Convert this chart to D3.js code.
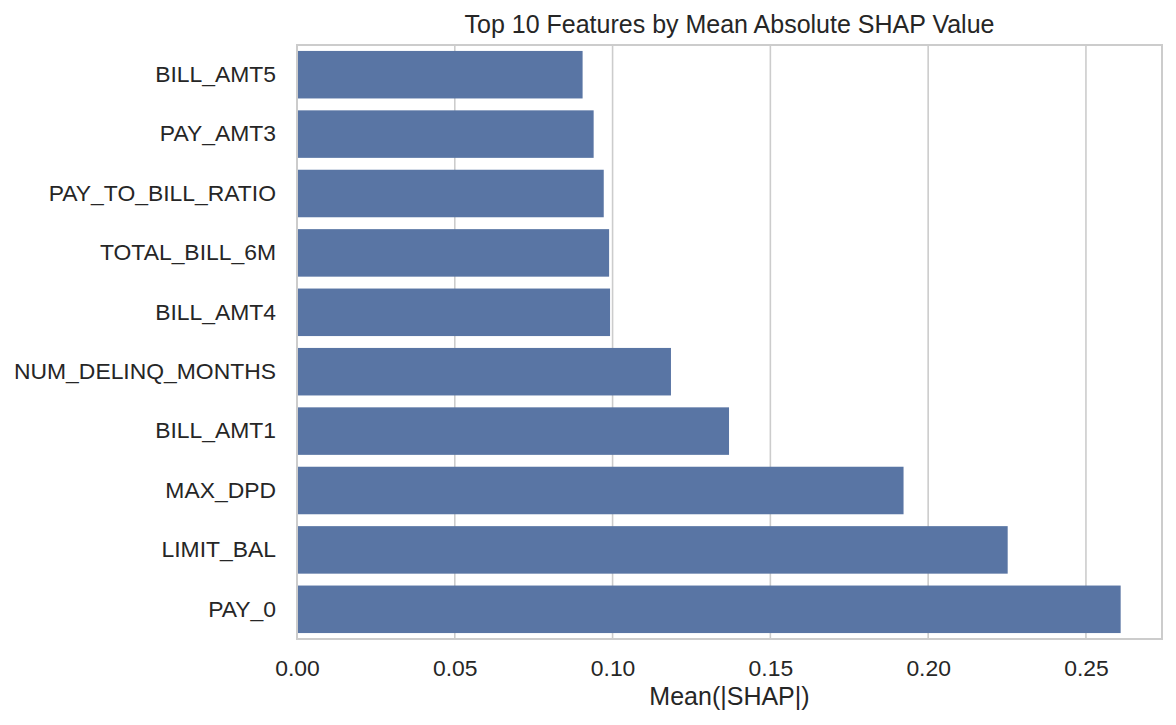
<!DOCTYPE html>
<html>
<head>
<meta charset="utf-8">
<script src="https://cdn.jsdelivr.net/npm/d3@7"></script>
<style>
  body { margin: 0; background: #fff; }
  text { font-family: Arial, "Liberation Sans", sans-serif; fill: #262626; }
</style>
</head>
<body>
<div id="chart"></div>
<script>
// data, top to bottom as drawn
var features = ['BILL_AMT5', 'PAY_AMT3', 'PAY_TO_BILL_RATIO', 'TOTAL_BILL_6M', 'BILL_AMT4',
                'NUM_DELINQ_MONTHS', 'BILL_AMT1', 'MAX_DPD', 'LIMIT_BAL', 'PAY_0'];
var meanShap = [0.0905, 0.0940, 0.0972, 0.0989, 0.0992, 0.1185, 0.1369, 0.1922, 0.2252, 0.2610];
var xTicks = [0, 0.05, 0.10, 0.15, 0.20, 0.25];

var svgwidth = 1176, svgheight = 725;
var plotLeft = 297, plotRight = 1162, plotTop = 45, plotBottom = 639;

var svg = d3.select('#chart').append('svg')
    .attr('width', svgwidth)
    .attr('height', svgheight);

var xscale = d3.scaleLinear()
    .domain([0, 0.2741])
    .range([plotLeft, plotRight]);

var yscale = d3.scaleBand()
    .domain(features)
    .range([plotTop, plotBottom])
    .paddingInner(0.2)
    .paddingOuter(0.1);

// grid lines (behind bars)
svg.append('g')
    .selectAll('line')
    .data(xTicks)
    .enter()
    .append('line')
    .attr('x1', d => xscale(d))
    .attr('x2', d => xscale(d))
    .attr('y1', plotTop)
    .attr('y2', plotBottom)
    .attr('stroke', '#cccccc')
    .attr('stroke-width', 1.6);

// bars
svg.append('g')
    .selectAll('rect')
    .data(features)
    .enter()
    .append('rect')
    .attr('x', xscale(0))
    .attr('y', d => yscale(d))
    .attr('width', (d, i) => xscale(meanShap[i]) - xscale(0))
    .attr('height', yscale.bandwidth())
    .attr('fill', '#5975a4');

// frame
svg.append('rect')
    .attr('x', plotLeft)
    .attr('y', plotTop)
    .attr('width', plotRight - plotLeft)
    .attr('height', plotBottom - plotTop)
    .attr('fill', 'none')
    .attr('stroke', '#cccccc')
    .attr('stroke-width', 2);

// x axis
var xaxis = d3.axisBottom(xscale)
    .tickValues(xTicks)
    .tickFormat(d3.format('.2f'))
    .tickSize(0)
    .tickPadding(21);

var gx = svg.append('g')
    .attr('transform', 'translate(0,' + plotBottom + ')')
    .call(xaxis);
gx.select('.domain').remove();
gx.selectAll('text')
    .style('font-size', '22.9px')
    .attr('fill', '#262626')
    .attr('font-family', 'Arial, "Liberation Sans", sans-serif');

// y axis
var yaxis = d3.axisLeft(yscale)
    .tickSize(0)
    .tickPadding(21);

var gy = svg.append('g')
    .attr('transform', 'translate(' + plotLeft + ',0)')
    .call(yaxis);
gy.select('.domain').remove();
gy.selectAll('text')
    .style('font-size', '22.9px')
    .attr('fill', '#262626')
    .attr('font-family', 'Arial, "Liberation Sans", sans-serif');

// title
svg.append('text')
    .attr('x', (plotLeft + plotRight) / 2)
    .attr('y', 33)
    .attr('text-anchor', 'middle')
    .style('font-size', '25px')
    .text('Top 10 Features by Mean Absolute SHAP Value');

// x label
svg.append('text')
    .attr('x', (plotLeft + plotRight) / 2)
    .attr('y', 705)
    .attr('text-anchor', 'middle')
    .style('font-size', '25px')
    .text('Mean(|SHAP|)');
</script>
</body>
</html>
